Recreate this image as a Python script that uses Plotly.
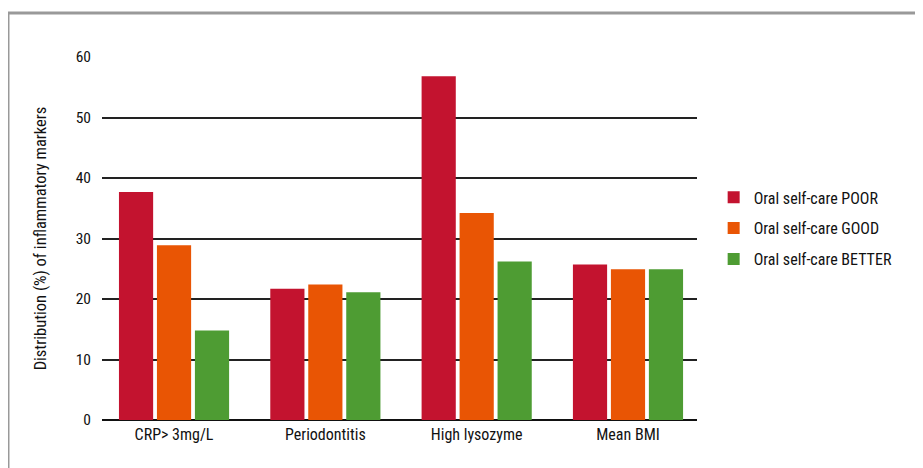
import plotly.graph_objects as go

categories = ["CRP> 3mg/L", "Periodontitis", "High lysozyme", "Mean BMI"]
series_names = ["Oral self-care POOR", "Oral self-care GOOD", "Oral self-care BETTER"]
poor = [37.7, 21.7, 56.8, 25.7]
good = [28.9, 22.4, 34.2, 24.9]
better = [14.8, 21.1, 26.2, 24.9]
colors = ["#C3132F", "#E95504", "#4E9C33"]
yticks = [0, 10, 20, 30, 40, 50, 60]

FONT = "Liberation Sans Narrow, Roboto Condensed, Arial Narrow, Liberation Sans, sans-serif"

fig = go.Figure()
for name, vals, col in zip(series_names, [poor, good, better], colors):
    fig.add_trace(go.Bar(x=categories, y=vals, name=name, marker_color=col,
                         marker_line_width=0, legendgroup=name))

fig.update_layout(
    width=915, height=460,
    margin=dict(l=94, r=226, t=49, b=48),
    paper_bgcolor="white", plot_bgcolor="white",
    barmode="group", bargap=0.247, bargroupgap=0.1,
    font=dict(family=FONT, size=15.5, color="#111"),
    legend=dict(x=1.028, y=0.66, xanchor="left", yanchor="top",
                font=dict(size=16, color="#111"), tracegroupgap=7,
                itemwidth=30, bgcolor="rgba(0,0,0,0)"),
    showlegend=True,
)
fig.update_xaxes(showgrid=False, showline=False, ticks="", range=[-0.476, 3.456],
                 tickfont=dict(size=16), ticklabelstandoff=3)
fig.update_yaxes(range=[0, 60], tickvals=yticks, showgrid=True, gridcolor="#222",
                 gridwidth=1.5, zeroline=True, zerolinecolor="#111", zerolinewidth=2,
                 showline=False, ticks="", ticklabelstandoff=10, tickfont=dict(size=15.5),
                 title=dict(text="Distribution (%) of inflammatory markers",
                            font=dict(size=16.5), standoff=24))

fig.add_shape(type="rect", xref="paper", yref="paper",
              x0=-0.158, x1=1.375, y0=-0.2, y1=1.121,
              line=dict(color="#999", width=3), fillcolor="rgba(0,0,0,0)", layer="below")

fig.write_html("out.html")
